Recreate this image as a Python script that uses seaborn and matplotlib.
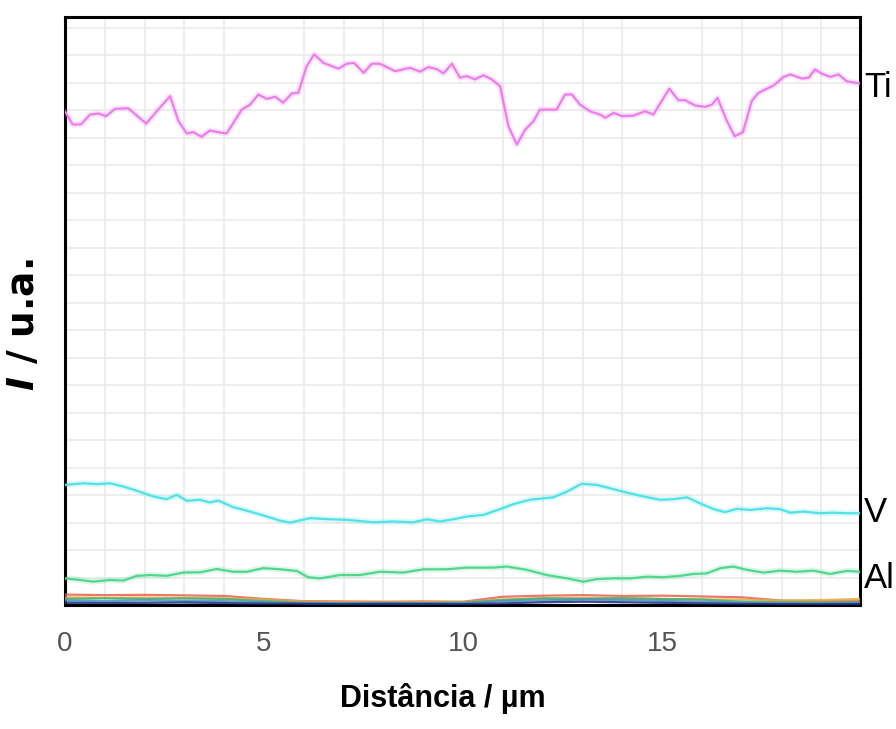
import numpy as np
import pandas as pd
import matplotlib
matplotlib.use("Agg")
import matplotlib.pyplot as plt
import seaborn as sns

# Line-scan profiles (distance in µm, intensity in arbitrary units)
ti_x = [0.0, 0.19, 0.40, 0.63, 0.84, 1.03, 1.26, 1.59, 2.04, 2.34, 2.64, 2.85, 3.06, 3.22, 3.43,
        3.64, 3.85, 4.06, 4.44, 4.65, 4.86, 5.07, 5.28, 5.48, 5.70, 5.86, 6.07, 6.26, 6.49, 6.87,
        7.08, 7.26, 7.50, 7.71, 7.91, 8.29, 8.67, 8.92, 9.13, 9.34, 9.51, 9.72, 9.92, 10.09, 10.30,
        10.51, 10.72, 10.93, 11.14, 11.35, 11.56, 11.77, 11.93, 12.35, 12.56, 12.73, 12.94, 13.20,
        13.44, 13.57, 13.78, 13.99, 14.28, 14.57, 14.78, 15.18, 15.41, 15.58, 15.83, 16.08, 16.25,
        16.39, 16.61, 16.82, 17.03, 17.25, 17.42, 17.80, 18.05, 18.22, 18.51, 18.68, 18.84, 19.01,
        19.22, 19.43, 19.64, 19.97]
ti_y = [17.97, 17.49, 17.49, 17.85, 17.89, 17.79, 18.06, 18.08, 17.52, 18.03, 18.52, 17.61, 17.16,
        17.21, 17.04, 17.27, 17.21, 17.16, 18.03, 18.21, 18.58, 18.42, 18.50, 18.28, 18.62, 18.64,
        19.61, 20.04, 19.73, 19.52, 19.70, 19.73, 19.37, 19.70, 19.70, 19.43, 19.55, 19.41, 19.58,
        19.50, 19.35, 19.70, 19.19, 19.25, 19.13, 19.28, 19.13, 18.88, 17.42, 16.76, 17.30, 17.61,
        18.03, 18.03, 18.58, 18.58, 18.21, 17.96, 17.85, 17.73, 17.91, 17.79, 17.81, 17.97, 17.85,
        18.79, 18.37, 18.37, 18.18, 18.13, 18.21, 18.46, 17.67, 17.06, 17.21, 18.34, 18.64, 18.91,
        19.22, 19.31, 19.16, 19.19, 19.49, 19.34, 19.22, 19.31, 19.06, 18.98]

v_x = [0.0, 0.46, 0.80, 1.13, 1.47, 1.80, 2.22, 2.55, 2.81, 3.06, 3.39, 3.64, 3.85, 4.23, 4.65,
       5.07, 5.40, 5.65, 6.16, 6.66, 7.08, 7.75, 8.25, 8.75, 9.09, 9.42, 9.76, 10.09, 10.51, 10.93,
       11.26, 11.68, 12.27, 12.61, 12.98, 13.36, 13.69, 14.11, 14.53, 14.95, 15.28, 15.62, 15.95,
       16.29, 16.58, 16.88, 17.21, 17.63, 17.96, 18.22, 18.55, 18.97, 19.30, 19.64, 19.97]
v_y = [4.37, 4.43, 4.40, 4.43, 4.31, 4.16, 3.95, 3.85, 4.01, 3.79, 3.83, 3.73, 3.80, 3.56, 3.40,
       3.22, 3.07, 3.00, 3.16, 3.12, 3.10, 3.01, 3.04, 3.01, 3.12, 3.04, 3.12, 3.22, 3.28, 3.49,
       3.67, 3.83, 3.92, 4.13, 4.41, 4.37, 4.25, 4.09, 3.95, 3.83, 3.85, 3.92, 3.70, 3.49, 3.38,
       3.50, 3.46, 3.52, 3.49, 3.36, 3.40, 3.34, 3.36, 3.34, 3.34]

al_x = [0.0, 0.38, 0.71, 1.13, 1.47, 1.80, 2.14, 2.55, 2.97, 3.39, 3.81, 4.23, 4.56, 4.98, 5.40,
        5.82, 6.11, 6.41, 6.91, 7.41, 7.91, 8.50, 9.00, 9.59, 10.09, 10.76, 11.10, 11.60, 12.10,
        12.61, 13.02, 13.36, 13.78, 14.20, 14.62, 15.03, 15.45, 15.79, 16.12, 16.46, 16.79, 17.13,
        17.55, 17.96, 18.38, 18.80, 19.22, 19.64, 19.97]
al_y = [0.97, 0.91, 0.85, 0.91, 0.89, 1.06, 1.09, 1.06, 1.18, 1.19, 1.31, 1.21, 1.21, 1.34, 1.30,
        1.24, 1.01, 0.97, 1.09, 1.09, 1.21, 1.18, 1.30, 1.30, 1.36, 1.36, 1.40, 1.28, 1.09, 0.97,
        0.85, 0.94, 0.97, 0.97, 1.03, 1.01, 1.06, 1.13, 1.15, 1.34, 1.40, 1.28, 1.18, 1.25, 1.21,
        1.25, 1.13, 1.24, 1.21]

# Minor elements close to the baseline
minor_x = [0, 1, 2, 3, 4, 5, 6, 7, 8, 9, 10, 11, 12, 13, 14, 15, 16, 17, 18, 19, 19.97]
minor_y = {
    "Fe": [0.38, 0.36, 0.37, 0.35, 0.33, 0.22, 0.14, 0.13, 0.12, 0.13, 0.12, 0.30, 0.34, 0.36,
           0.33, 0.34, 0.31, 0.28, 0.16, 0.14, 0.15],
    "Cr": [0.28, 0.26, 0.27, 0.25, 0.24, 0.20, 0.12, 0.10, 0.10, 0.11, 0.10, 0.20, 0.25, 0.26,
           0.24, 0.22, 0.20, 0.20, 0.16, 0.18, 0.22],
    "O": [0.22, 0.24, 0.22, 0.24, 0.22, 0.14, 0.08, 0.07, 0.08, 0.07, 0.09, 0.18, 0.24, 0.22,
          0.25, 0.22, 0.20, 0.12, 0.10, 0.09, 0.10],
    "N": [0.16, 0.14, 0.17, 0.15, 0.14, 0.10, 0.06, 0.05, 0.06, 0.05, 0.06, 0.14, 0.17, 0.20,
          0.18, 0.15, 0.12, 0.08, 0.06, 0.05, 0.06],
    "C": [0.08, 0.07, 0.08, 0.09, 0.07, 0.05, 0.04, 0.03, 0.04, 0.04, 0.03, 0.06, 0.10, 0.12,
          0.10, 0.08, 0.06, 0.04, 0.03, 0.03, 0.04],
}

main_colors = {"Ti": "#ee7cee", "V": "#4fe2e6", "Al": "#4fd78e"}
minor_colors = {"Fe": "#e8624e", "Cr": "#e8a848", "O": "#3cb371", "N": "#4a90c0", "C": "#1c2a80"}

frames = [
    pd.DataFrame({"distance": ti_x, "intensity": ti_y, "element": "Ti"}),
    pd.DataFrame({"distance": v_x, "intensity": v_y, "element": "V"}),
    pd.DataFrame({"distance": al_x, "intensity": al_y, "element": "Al"}),
]
main_df = pd.concat(frames, ignore_index=True)
minor_df = pd.concat(
    [pd.DataFrame({"distance": minor_x, "intensity": vals, "element": name})
     for name, vals in minor_y.items()],
    ignore_index=True,
)

sns.set_style("white")
plt.rcParams["font.family"] = ["Liberation Sans", "DejaVu Sans"]

fig = plt.figure(figsize=(8.96, 7.29), dpi=100)
ax = fig.add_axes([65 / 896, 124 / 729, 795 / 896, 588 / 729])

# minor traces along the baseline
sns.lineplot(data=minor_df, x="distance", y="intensity", hue="element",
             palette=minor_colors, estimator=None, sort=False, legend=False,
             linewidth=1.6, alpha=0.85, ax=ax, zorder=3)
# soft halo under the main traces
sns.lineplot(data=main_df, x="distance", y="intensity", hue="element",
             palette=main_colors, estimator=None, sort=False, legend=False,
             linewidth=4.5, alpha=0.18, ax=ax, zorder=4)
sns.lineplot(data=main_df, x="distance", y="intensity", hue="element",
             palette=main_colors, estimator=None, sort=False, legend=False,
             linewidth=1.6, ax=ax, zorder=5)

ax.set_xlim(0, 19.97)
ax.set_ylim(0, 21.4)
ax.set_xticks([0, 5, 10, 15])
ax.set_xticklabels(["0", "5", "10", "15"])
ax.set_xticks(np.arange(0, 20, 1), minor=True)
ax.set_yticks(np.arange(0, 22, 1))
ax.set_yticklabels([])

ax.grid(True, which="major", axis="y", color="#e9e9e9", linewidth=1.1, zorder=0)
ax.grid(True, which="minor", axis="x", color="#e9e9e9", linewidth=1.1, zorder=0)
ax.set_axisbelow(True)

for side in ["left", "bottom", "top", "right"]:
    ax.spines[side].set_visible(True)
    ax.spines[side].set_color("black")
    ax.spines[side].set_linewidth(2.2)

ax.tick_params(axis="x", which="major", direction="out", length=9.5, width=1.5,
               color="#333333", labelsize=20, labelcolor="#555555", pad=9)
ax.tick_params(axis="x", which="minor", direction="out", length=6, width=1.5,
               color="#333333")
ax.tick_params(axis="y", which="major", direction="out", length=5, width=1.5,
               color="#333333")

ax.set_xlabel("Distância / µm", fontsize=22, fontweight="bold", color="black")
ax.xaxis.set_label_coords(0.475, -0.132)
ax.set_ylabel("")

fig.text(24 / 896, 1 - 325 / 729, r"$\mathbfit{I}$ / u.a.", rotation=90,
         ha="center", va="center", fontsize=27, fontweight="bold",
         family=["DejaVu Sans"], color="black")

# element labels at the right edge
for name, yv in [("Ti", 18.83), ("V", 3.35), ("Al", 0.98)]:
    ax.annotate(name, xy=(1.005, yv), xycoords=("axes fraction", "data"),
                ha="left", va="center", fontsize=25, color="black",
                annotation_clip=False)

fig.savefig("out.png", dpi=100)
